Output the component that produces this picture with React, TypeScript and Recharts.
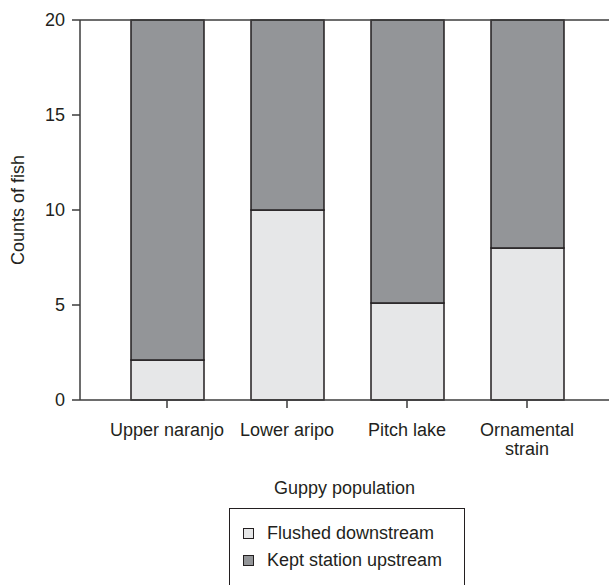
import React from 'react';
import { BarChart, Bar, XAxis, YAxis, Legend, ReferenceLine } from 'recharts';

const categories = ['Upper naranjo', 'Lower aripo', 'Pitch lake', 'Ornamental\nstrain'];
const flushedDownstream = [2.1, 10, 5.1, 8];
const keptStationUpstream = [17.9, 10, 14.9, 12];
const yTicks = [0, 5, 10, 15, 20];

const data = categories.map((name, i) => ({
  name,
  flushed: flushedDownstream[i],
  kept: keptStationUpstream[i],
}));

const INK = '#231f20';
const AXIS = '#3c3c3c';
const LIGHT = '#e6e7e8';
const DARK = '#939598';
const FONT = '"Liberation Sans", Arial, Helvetica, sans-serif';

function CategoryTick({ x, y, payload }: any) {
  const lines = String(payload.value).split('\n');
  return (
    <text x={x} y={y} textAnchor="middle" fontSize={18} fill={INK} fontFamily={FONT}>
      {lines.map((line, i) => (
        <tspan key={i} x={x} dy={i === 0 ? '0.71em' : '1.08em'}>
          {line}
        </tspan>
      ))}
    </text>
  );
}

function YTitle({ viewBox }: any) {
  const cx = 24;
  const cy = viewBox.y + viewBox.height / 2;
  return (
    <text
      x={cx}
      y={cy}
      transform={`rotate(-90, ${cx}, ${cy})`}
      textAnchor="middle"
      fontSize={18}
      fill={INK}
      fontFamily={FONT}
    >
      Counts of fish
    </text>
  );
}

function XTitle({ viewBox }: any) {
  return (
    <text
      x={viewBox.x + viewBox.width / 2}
      y={viewBox.y + 94}
      textAnchor="middle"
      fontSize={18}
      fill={INK}
      fontFamily={FONT}
    >
      Guppy population
    </text>
  );
}

function LegendBox({ payload }: any) {
  return (
    <div
      style={{
        width: 236,
        height: 90,
        boxSizing: 'border-box',
        border: `1.5px solid ${INK}`,
        background: '#fff',
        paddingTop: 11,
        paddingLeft: 13,
        fontFamily: FONT,
        fontSize: 18,
        color: INK,
      }}
    >
      {(payload || []).map((entry: any) => (
        <div key={entry.value} style={{ display: 'flex', alignItems: 'center', height: 27 }}>
          <span
            style={{
              display: 'inline-block',
              width: 11,
              height: 11,
              boxSizing: 'border-box',
              border: `1.2px solid ${INK}`,
              background: entry.color,
              marginRight: 13,
            }}
          />
          <span>{entry.value}</span>
        </div>
      ))}
    </div>
  );
}

export default function App() {
  return (
    <div style={{ position: 'absolute', left: 0, top: 0, background: '#fff' }}>
      <BarChart
        width={609}
        height={585}
        data={data}
        margin={{ top: 20, right: 0, left: 0, bottom: 125 }}
        barSize={73}
      >
        <XAxis
          dataKey="name"
          height={60}
          padding={{ left: 27, right: 22 }}
          stroke={AXIS}
          strokeWidth={1.5}
          tickSize={8}
          tickMargin={15}
          tick={<CategoryTick />}
          interval={0}
          label={{ content: <XTitle /> }}
        />
        <YAxis
          width={80}
          domain={[0, 20]}
          ticks={yTicks}
          stroke={AXIS}
          strokeWidth={1.5}
          tickSize={8}
          tickMargin={7}
          tick={{ fontSize: 18, fill: INK, fontFamily: FONT }}
          label={{ content: <YTitle /> }}
        />
        <ReferenceLine y={20} stroke={AXIS} strokeWidth={1.5} />
        <Bar
          dataKey="flushed"
          name="Flushed downstream"
          stackId="a"
          fill={LIGHT}
          stroke={INK}
          strokeWidth={1.5}
          isAnimationActive={false}
        />
        <Bar
          dataKey="kept"
          name="Kept station upstream"
          stackId="a"
          fill={DARK}
          stroke={INK}
          strokeWidth={1.5}
          isAnimationActive={false}
        />
        <Legend
          layout="vertical"
          align="center"
          verticalAlign="middle"
          content={<LegendBox />}
          wrapperStyle={{ left: 229, top: 508, width: 236, height: 90 }}
        />
      </BarChart>
    </div>
  );
}
